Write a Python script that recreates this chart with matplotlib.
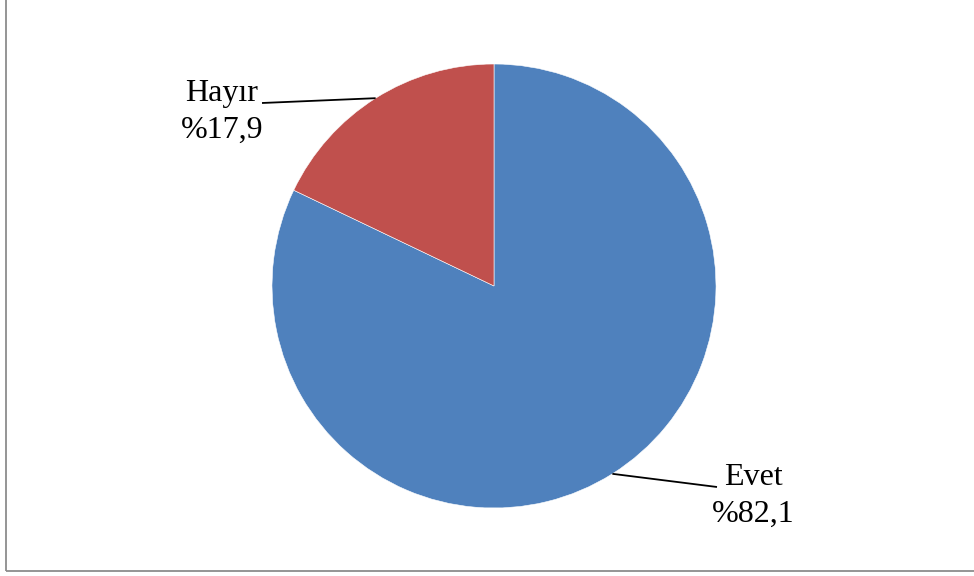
import numpy as np
import matplotlib.pyplot as plt
from matplotlib.patches import Rectangle

labels = ['Evet', 'Hayır']
values = [82.1, 17.9]
colors = ['#4F81BD', '#C0504D']
value_texts = ['%82,1', '%17,9']

plt.rcParams['font.family'] = ['Liberation Serif', 'DejaVu Serif']

W, H = 974, 576
fig = plt.figure(figsize=(W / 100, H / 100), dpi=100)
ax = fig.add_axes([0, 0, 1, 1])

cx, cy, r = 494, 290, 222
wedges, _ = ax.pie(values, colors=colors, startangle=90, counterclock=False,
                   center=(cx, cy), radius=r, frame=True,
                   wedgeprops=dict(edgecolor='white', linewidth=0.4))
ax.set_xlim(0, W)
ax.set_ylim(0, H)
ax.set_aspect('equal')
ax.axis('off')

# label block centres and leader end points, one per slice
text_pos = [(753, 80), (222, 464)]
leader_end = [(717, 89), (262, 473)]

for w, lab, val, tp, le in zip(wedges, labels, value_texts, text_pos, leader_end):
    mid = np.deg2rad((w.theta1 + w.theta2) / 2)
    sx, sy = cx + r * np.cos(mid), cy + r * np.sin(mid)
    ax.plot([sx, le[0]], [sy, le[1]], color='black', lw=1.3, solid_capstyle='butt')
    ax.text(tp[0], tp[1], f'{lab}\n{val}', ha='center', va='center',
            multialignment='center', fontsize=23, linespacing=1.38)

# chart frame
ax.add_patch(Rectangle((6, 5), 990, 600, fill=False, edgecolor='#8c8c8c',
                       lw=1.3, clip_on=False))

fig.savefig('out.png', dpi=100)
